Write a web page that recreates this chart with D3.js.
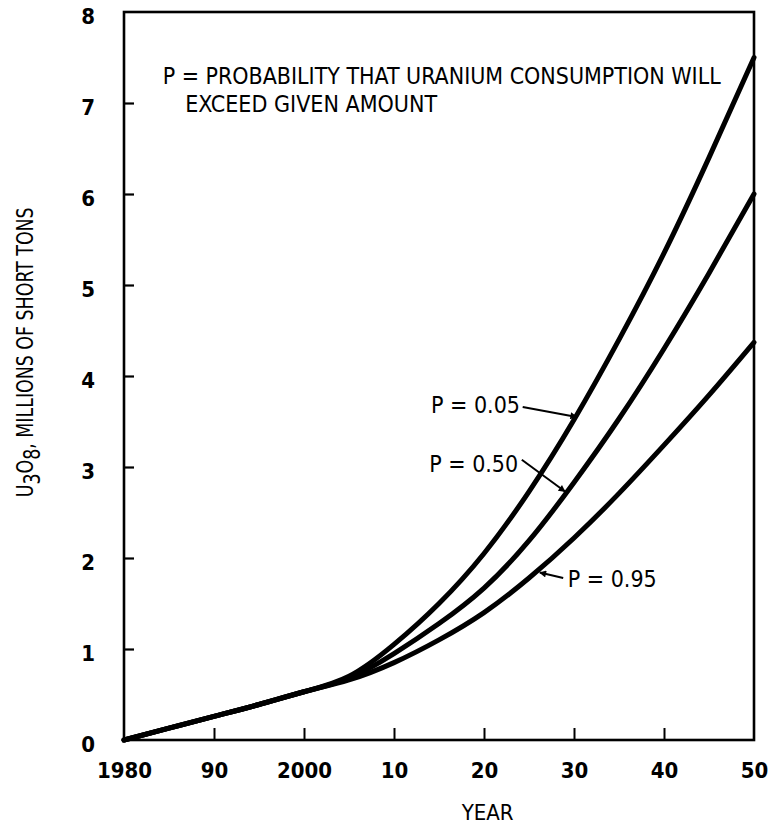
<!DOCTYPE html>
<html>
<head>
<meta charset="utf-8">
<script src="https://cdn.jsdelivr.net/npm/d3@7/dist/d3.min.js"></script>
<style>
  html, body { margin: 0; padding: 0; background: #fff; }
  svg { display: block; }
  .cond { font-family: "DejaVu Sans Condensed", "Liberation Sans Narrow", "Arial Narrow", sans-serif; }
</style>
</head>
<body>
<svg id="chart" width="770" height="825"></svg>
<script>
// Projected cumulative U3O8 consumption, millions of short tons
const years = [1980, 1985, 1990, 1995, 2000, 2005, 2010, 2015, 2020, 2025, 2030, 2035, 2040, 2045, 2050];
const p05 = [0, 0.13, 0.26, 0.39, 0.53, 0.70, 1.05, 1.50, 2.05, 2.73, 3.52, 4.40, 5.35, 6.40, 7.50];
const p50 = [0, 0.13, 0.26, 0.39, 0.53, 0.68, 0.95, 1.28, 1.67, 2.19, 2.83, 3.53, 4.30, 5.13, 6.00];
const p95 = [0, 0.13, 0.26, 0.39, 0.53, 0.66, 0.85, 1.10, 1.40, 1.78, 2.22, 2.71, 3.24, 3.79, 4.37];

const xTickValues = [1980, 1990, 2000, 2010, 2020, 2030, 2040, 2050];
const xTickLabels = ["1980", "90", "2000", "10", "20", "30", "40", "50"];
const yTickValues = [0, 1, 2, 3, 4, 5, 6, 7, 8];

const seriesLabels = ["P = 0.05", "P = 0.50", "P = 0.95"];
// label anchor (year, value) and arrow from/to (year, value) per curve
const labelPos = [[2024.0, 3.59], [2023.8, 2.95], [2029.3, 1.68]];
const arrowFrom = [[2024.3, 3.66], [2024.2, 3.08], [2028.8, 1.78]];
const arrowTo = [[2030.3, 3.55], [2029.0, 2.73], [2026.2, 1.84]];

const noteLines = ["P = PROBABILITY THAT URANIUM CONSUMPTION WILL", "EXCEED GIVEN AMOUNT"];

const svg = d3.select("#chart");
const margin = { top: 12, right: 16, bottom: 85, left: 124 };
const W = 770 - margin.left - margin.right;
const H = 825 - margin.top - margin.bottom;

const x = d3.scaleLinear().domain([1980, 2050]).range([0, W]);
const y = d3.scaleLinear().domain([0, 8]).range([H, 0]);

const g = svg.append("g").attr("transform", `translate(${margin.left},${margin.top})`);

// plot frame
g.append("rect")
  .attr("x", 0).attr("y", 0).attr("width", W).attr("height", H)
  .attr("fill", "none").attr("stroke", "#000").attr("stroke-width", 2.6);

// y axis: ticks pointing inward
const yAxis = g.append("g")
  .call(d3.axisLeft(y).tickValues(yTickValues).tickSize(-10).tickPadding(29).tickFormat(d3.format("d")));
yAxis.select(".domain").remove();
yAxis.selectAll("line").attr("stroke", "#000").attr("stroke-width", 2.2)
  .filter(d => d === 0 || d === 8).remove();
yAxis.selectAll("text").attr("class", "cond").attr("font-size", 22).attr("font-weight", "bold")
  .attr("fill", "#000").attr("dy", "0.65em").attr("y", -3);

// x axis: ticks pointing inward
const xAxis = g.append("g").attr("transform", `translate(0,${H})`)
  .call(d3.axisBottom(x).tickValues(xTickValues).tickSize(-12).tickPadding(22)
    .tickFormat((d, i) => xTickLabels[i]));
xAxis.select(".domain").remove();
xAxis.selectAll("line").attr("stroke", "#000").attr("stroke-width", 2)
  .filter(d => d === 1980 || d === 2050).remove();
xAxis.selectAll("text").attr("class", "cond").attr("font-size", 22).attr("font-weight", "bold").attr("fill", "#000");

// axis titles
svg.append("text").attr("class", "cond")
  .attr("x", margin.left + x(2020.4)).attr("y", 820)
  .attr("text-anchor", "middle").attr("font-size", 22).text("YEAR");

const yTitle = svg.append("text").attr("class", "cond")
  .attr("transform", `translate(33,${margin.top + y(4.26)}) rotate(-90)`)
  .attr("text-anchor", "middle").attr("font-size", 23)
  .attr("textLength", 290).attr("lengthAdjust", "spacingAndGlyphs");
yTitle.append("tspan").text("U");
yTitle.append("tspan").attr("baseline-shift", "-30%").text("3");
yTitle.append("tspan").text("O");
yTitle.append("tspan").attr("baseline-shift", "-30%").text("8");
yTitle.append("tspan").text(", MILLIONS OF SHORT TONS");

// curves
const line = d3.line()
  .x((d, i) => x(years[i]))
  .y(d => y(d))
  .curve(d3.curveNatural);

[p05, p50, p95].forEach(s => {
  g.append("path").datum(s)
    .attr("d", line)
    .attr("fill", "none").attr("stroke", "#000")
    .attr("stroke-width", 5).attr("stroke-linecap", "round").attr("stroke-linejoin", "round");
});

// note at top
g.append("text").attr("class", "cond")
  .attr("x", x(1984.3)).attr("y", y(7.21))
  .attr("font-size", 23).attr("textLength", 558).attr("lengthAdjust", "spacingAndGlyphs")
  .text(noteLines[0]);
g.append("text").attr("class", "cond")
  .attr("x", x(1986.8)).attr("y", y(6.9))
  .attr("font-size", 23).attr("textLength", 252).attr("lengthAdjust", "spacingAndGlyphs")
  .text(noteLines[1]);

// arrowhead marker
svg.append("defs").append("marker")
  .attr("id", "arrow").attr("viewBox", "0 0 10 10")
  .attr("refX", 9).attr("refY", 5)
  .attr("markerWidth", 9).attr("markerHeight", 7)
  .attr("markerUnits", "userSpaceOnUse")
  .attr("orient", "auto")
  .append("path").attr("d", "M0,0 L10,5 L0,10 Z").attr("fill", "#000");

seriesLabels.forEach((lab, i) => {
  g.append("text").attr("class", "cond")
    .attr("x", x(labelPos[i][0])).attr("y", y(labelPos[i][1]))
    .attr("text-anchor", i === 2 ? "start" : "end")
    .attr("font-size", 23).text(lab);
  g.append("line")
    .attr("x1", x(arrowFrom[i][0])).attr("y1", y(arrowFrom[i][1]))
    .attr("x2", x(arrowTo[i][0])).attr("y2", y(arrowTo[i][1]))
    .attr("stroke", "#000").attr("stroke-width", 2)
    .attr("marker-end", "url(#arrow)");
});
</script>
</body>
</html>
